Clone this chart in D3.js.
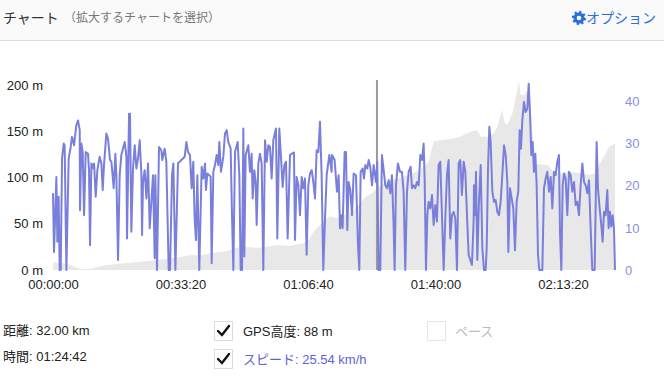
<!DOCTYPE html>
<html>
<head>
<meta charset="utf-8">
<script src="https://cdn.jsdelivr.net/npm/d3@7"></script>
<style>
body { margin: 0; background: #fff; }
text { font-family: "Liberation Sans", Arial, "Noto Sans CJK JP", sans-serif; }
.jp { font-family: "Noto Sans CJK JP", sans-serif; }
</style>
</head>
<body>
<svg id="chart" width="664" height="385"></svg>
<script>
// GPS高度 [秒, m]
const elevation = [
    [0, 8], [214, 7], [424, 1], [581, 1], [685, 3], [800, 5], [1000, 6.5], [1260, 8], [1522, 10],
    [1760, 12], [1992, 14], [2149, 16], [2306, 16], [2463, 18], [2672, 19.8], [2776, 21.6],
    [2933, 25], [3195, 24], [3352, 25], [3508, 27], [3718, 26], [3875, 28.5], [3927, 29],
    [4005, 32], [4084, 41], [4162, 47], [4240, 52], [4345, 58], [4450, 56], [4533, 58],
    [4690, 63], [4794, 70], [4899, 79], [5004, 83], [5082, 88], [5213, 95], [5422, 99],
    [5631, 104], [5788, 110], [5892, 117], [5971, 139], [6102, 140.5], [6258, 142], [6389, 144],
    [6468, 147], [6572, 150], [6656, 151], [6709, 144], [6839, 144], [6918, 148], [6970, 155],
    [7022, 168], [7048, 173], [7085, 159], [7127, 157], [7205, 169], [7258, 186], [7310, 204],
    [7336, 189], [7388, 189], [7467, 196], [7493, 175], [7519, 150], [7571, 115], [7650, 114],
    [7754, 113.5], [7859, 106], [7964, 104.5], [8120, 106], [8277, 104.5], [8408, 103],
    [8513, 104.5], [8565, 113.5], [8643, 122.5], [8721, 133], [8816, 137]
];

// スピード [秒, km/h]
const speed = [
    [0, 18.2], [16, 4.3], [53, 22.1], [68, 6.7], [89, 17.4], [105, 0], [121, 0], [142, 26.5],
    [168, 30.0], [183, 29.6], [210, 0], [246, 26.5], [278, 29.2], [298, 31.6], [330, 29.6],
    [366, 34.4], [393, 35.5], [419, 33.2], [424, 14.2], [445, 30.0], [466, 28.0], [487, 13.0],
    [513, 28.0], [549, 27.6], [565, 23.7], [581, 5.9], [602, 25.3], [628, 24.1], [644, 25.3],
    [670, 17.4], [696, 23.7], [732, 26.9], [759, 25.3], [780, 19.0], [800, 24.9], [837, 32.4],
    [863, 31.2], [895, 26.1], [916, 25.7], [952, 19.4], [978, 27.6], [994, 22.5], [1020, 2.4],
    [1031, 10.7], [1046, 22.5], [1072, 27.3], [1125, 30.4], [1151, 26.9], [1161, 7.5],
    [1193, 37.1], [1208, 37.1], [1229, 9.1], [1255, 24.1], [1282, 29.6], [1308, 24.1],
    [1334, 26.5], [1360, 30.8], [1386, 22.9], [1397, 8.3], [1412, 20.9], [1438, 23.7],
    [1465, 17.0], [1491, 25.3], [1517, 9.9], [1569, 22.5], [1595, 2.8], [1606, 22.5], [1632, 0],
    [1663, 29.2], [1700, 28.4], [1715, 26.1], [1752, 28.8], [1778, 25.7], [1815, 0], [1836, 0],
    [1867, 22.5], [1888, 25.3], [1920, 0], [1961, 25.3], [2014, 26.1], [2066, 26.9],
    [2092, 30.4], [2118, 28.0], [2149, 27.3], [2175, 19.4], [2201, 25.7], [2222, 12.2],
    [2243, 7.1], [2264, 22.5], [2295, 0], [2332, 24.5], [2358, 21.7], [2384, 25.3], [2400, 19.0],
    [2421, 22.9], [2452, 22.5], [2473, 22.1], [2489, 1.6], [2515, 23.3], [2541, 24.9],
    [2567, 27.3], [2593, 24.9], [2609, 30.4], [2635, 23.3], [2672, 26.9], [2698, 32.4],
    [2724, 33.2], [2750, 30.4], [2787, 28.8], [2808, 13.0], [2829, 0], [2855, 28.0],
    [2897, 30.4], [2923, 22.5], [2944, 0], [2965, 0], [2986, 33.6], [3001, 3.2], [3022, 27.3],
    [3064, 29.6], [3090, 23.3], [3116, 27.6], [3132, 17.0], [3158, 23.7], [3179, 20.9],
    [3195, 10.7], [3221, 25.3], [3247, 27.6], [3273, 25.3], [3299, 0], [3326, 30.8],
    [3352, 25.7], [3378, 29.6], [3404, 29.2], [3430, 21.7], [3456, 30.8], [3498, 33.6],
    [3519, 7.5], [3550, 33.6], [3576, 26.9], [3603, 19.7], [3629, 24.9], [3655, 25.7],
    [3681, 7.5], [3718, 27.3], [3780, 27.9], [3796, 7.1], [3822, 22.1], [3849, 20.1],
    [3875, 13.0], [3901, 22.1], [3927, 19.4], [3953, 21.7], [3979, 3.6], [4005, 20.1],
    [4031, 22.9], [4058, 23.7], [4084, 20.9], [4110, 17.0], [4136, 28.4], [4162, 28.0],
    [4188, 35.2], [4214, 22.5], [4240, 0], [4267, 12.2], [4293, 22.5], [4335, 27.3],
    [4371, 23.3], [4376, 27.3], [4418, 26.1], [4454, 18.6], [4481, 22.5], [4502, 9.9],
    [4522, 13.0], [4543, 9.9], [4575, 28.0], [4596, 28.0], [4617, 9.5], [4637, 20.9],
    [4664, 19.0], [4690, 13.0], [4716, 22.9], [4753, 22.5], [4784, 5.9], [4805, 0], [4826, 23.3],
    [4857, 24.1], [4878, 21.7], [4899, 24.9], [4930, 24.1], [4951, 26.1], [4977, 24.5],
    [5004, 20.1], [5030, 24.9], [5066, 20.9], [5087, 25.7], [5108, 0], [5134, 0], [5160, 27.3],
    [5187, 23.7], [5213, 20.1], [5239, 19.4], [5265, 21.3], [5291, 18.2], [5317, 22.5],
    [5343, 10.7], [5359, 0], [5380, 20.1], [5411, 25.3], [5443, 23.3], [5474, 23.3],
    [5500, 18.6], [5526, 0], [5553, 18.6], [5579, 23.3], [5610, 24.5], [5631, 19.4],
    [5657, 20.1], [5683, 19.4], [5709, 20.9], [5736, 20.1], [5762, 27.3], [5788, 26.1],
    [5814, 30.0], [5830, 21.7], [5851, 0], [5872, 13.0], [5892, 16.2], [5919, 14.6],
    [5945, 17.8], [5971, 10.7], [5997, 15.4], [6023, 11.5], [6049, 24.9], [6075, 25.7],
    [6102, 13.0], [6128, 0], [6154, 12.2], [6180, 22.5], [6206, 26.1], [6232, 7.5], [6258, 13.0],
    [6285, 13.8], [6311, 12.2], [6337, 0], [6363, 25.3], [6389, 26.1], [6415, 17.8],
    [6442, 25.7], [6468, 23.3], [6494, 13.0], [6520, 3.6], [6546, 2.4], [6572, 1.2],
    [6598, 11.5], [6604, 20.1], [6620, 13.0], [6635, 23.3], [6656, 2.4], [6682, 16.2],
    [6709, 24.9], [6735, 5.1], [6761, 0], [6787, 0], [6803, 5.1], [6824, 24.1], [6845, 34.0],
    [6865, 30.4], [6892, 18.6], [6918, 16.2], [6944, 16.6], [6970, 13.8], [6996, 13.0],
    [7022, 16.2], [7048, 22.5], [7075, 29.6], [7101, 27.3], [7127, 20.9], [7143, 4.3],
    [7169, 19.4], [7195, 17.0], [7221, 14.6], [7247, 4.7], [7273, 16.2], [7299, 18.6],
    [7320, 33.2], [7341, 28.8], [7362, 35.5], [7388, 39.9], [7414, 37.5], [7441, 38.3],
    [7462, 44.2], [7482, 37.5], [7503, 27.3], [7524, 30.4], [7545, 23.3], [7566, 27.6],
    [7587, 20.1], [7608, 3.6], [7629, 0], [7676, 0], [7702, 19.4], [7728, 21.7], [7754, 23.3],
    [7781, 18.6], [7807, 22.1], [7833, 14.6], [7859, 23.3], [7885, 22.5], [7911, 25.7],
    [7937, 27.3], [7953, 9.1], [7974, 0], [7995, 20.1], [8016, 22.9], [8042, 21.7], [8068, 13.0],
    [8094, 23.3], [8120, 22.5], [8147, 18.6], [8173, 20.9], [8199, 15.4], [8225, 16.2],
    [8251, 13.0], [8277, 20.1], [8304, 25.3], [8330, 20.9], [8356, 20.1], [8382, 18.2],
    [8408, 21.3], [8434, 9.9], [8460, 0], [8497, 0], [8528, 30.4], [8549, 19.4], [8575, 14.6],
    [8601, 10.7], [8622, 6.7], [8643, 13.8], [8669, 13.0], [8695, 19.0], [8716, 9.9],
    [8737, 13.8], [8758, 10.3], [8779, 13.0], [8800, 9.9], [8816, 0]
];

const timeTicks = [0, 2000, 4000, 6000, 8000];
const elevTicks = [0, 50, 100, 150, 200];
const speedTicks = [0, 10, 20, 30, 40];
const cursorTime = 5082;

const infoLeft = ['距離: 32.00 km', '時間: 01:24:42'];

const svg = d3.select('#chart');

// ヘッダー
svg.append('rect').attr('width', 664).attr('height', 40).attr('fill', '#fafafa');
svg.append('line').attr('x1', 0).attr('x2', 664).attr('y1', 40.5).attr('y2', 40.5)
    .attr('stroke', '#dddddd');
svg.append('text').attr('class', 'jp').attr('x', 3).attr('y', 23)
    .style('font-size', '14px').attr('fill', '#333').text('チャート');
svg.append('text').attr('class', 'jp').attr('x', 64).attr('y', 22)
    .style('font-size', '12px').attr('fill', '#777').text('（拡大するチャートを選択）');

// 歯車アイコン
const gearPts = [];
for (let i = 0; i < 32; i++) {
    const a = (i / 32) * 2 * Math.PI;
    const r = (Math.floor(i / 2) % 2 === 0) ? 7.3 : 5.4;
    gearPts.push([579 + r * Math.cos(a + 0.1), 18 + r * Math.sin(a + 0.1)]);
}
svg.append('path')
    .attr('d', d3.line()(gearPts) + 'Z')
    .attr('fill', '#2a6fdb');
svg.append('circle').attr('cx', 579).attr('cy', 18).attr('r', 2.3).attr('fill', '#fafafa');
svg.append('text').attr('class', 'jp').attr('x', 586).attr('y', 23)
    .style('font-size', '14px').attr('fill', '#2a6fdb').text('オプション');

// スケール
const x = d3.scaleLinear().domain([0, 8816]).range([53, 615]);
const yElev = d3.scaleLinear().domain([0, 205.4]).range([270, 80]);
const ySpeed = d3.scaleLinear().domain([0, 45.1]).range([270, 80]);

const fmtTime = s => {
    const h = Math.floor(s / 3600), m = Math.floor((s % 3600) / 60), sec = s % 60;
    return [h, m, sec].map(v => String(v).padStart(2, '0')).join(':');
};

// 高度エリア
svg.append('path')
    .datum(elevation)
    .attr('fill', '#e8e8e8')
    .attr('d', d3.area().x(d => x(d[0])).y0(270).y1(d => yElev(d[1])));

// カーソル
svg.append('line')
    .attr('x1', x(cursorTime)).attr('x2', x(cursorTime))
    .attr('y1', 80).attr('y2', 270)
    .attr('stroke', '#9a9a9a').attr('stroke-width', 2);

// スピード線
svg.append('path')
    .datum(speed)
    .attr('fill', 'none')
    .attr('stroke', '#7a7fdb')
    .attr('stroke-width', 2)
    .attr('stroke-linejoin', 'round')
    .attr('d', d3.line().x(d => x(d[0])).y(d => ySpeed(d[1])));

// 軸
const gx = svg.append('g').attr('transform', 'translate(0,270)')
    .call(d3.axisBottom(x).tickValues(timeTicks).tickFormat(fmtTime).tickSize(0).tickPadding(10));
const gl = svg.append('g').attr('transform', 'translate(53,0)')
    .call(d3.axisLeft(yElev).tickValues(elevTicks).tickFormat(d => d + ' m').tickSize(0).tickPadding(10));
const gr = svg.append('g').attr('transform', 'translate(615,0)')
    .call(d3.axisRight(ySpeed).tickValues(speedTicks).tickSize(0).tickPadding(10));

[gx, gl, gr].forEach(g => {
    g.select('.domain').remove();
    g.selectAll('text').style('font-size', '13px')
        .style('font-family', '"Liberation Sans", Arial, sans-serif');
});
gx.selectAll('text').attr('fill', '#222');
gl.selectAll('text').attr('fill', '#222');
gr.selectAll('text').attr('fill', '#8a8fe2');

// 下部の情報
infoLeft.forEach((t, i) => {
    svg.append('text').attr('x', 3).attr('y', 335 + i * 26)
        .style('font-size', '13px').attr('fill', '#222').text(t);
});

function checkbox(x0, y0, checked, disabled) {
    svg.append('rect').attr('x', x0 + 0.5).attr('y', y0 + 0.5).attr('width', 18).attr('height', 19)
        .attr('fill', '#fff').attr('stroke', disabled ? '#e6e6e6' : '#dcdcdc');
    if (checked) {
        svg.append('path')
            .attr('d', `M${x0 + 4},${y0 + 10} L${x0 + 8},${y0 + 14} L${x0 + 15},${y0 + 5}`)
            .attr('fill', 'none').attr('stroke', '#111').attr('stroke-width', 2.4)
            .attr('stroke-linecap', 'round');
    }
}

checkbox(214, 321, true, false);
checkbox(214, 349, true, false);
checkbox(427, 321, false, true);

svg.append('text').attr('x', 243).attr('y', 336)
    .style('font-size', '13px').attr('fill', '#222').text('GPS高度: 88 m');
svg.append('text').attr('x', 243).attr('y', 364)
    .style('font-size', '13px').attr('fill', '#5c62d8').text('スピード: 25.54 km/h');
svg.append('text').attr('x', 455).attr('y', 336)
    .style('font-size', '13px').attr('fill', '#bcbcbc').text('ペース');
</script>
</body>
</html>
